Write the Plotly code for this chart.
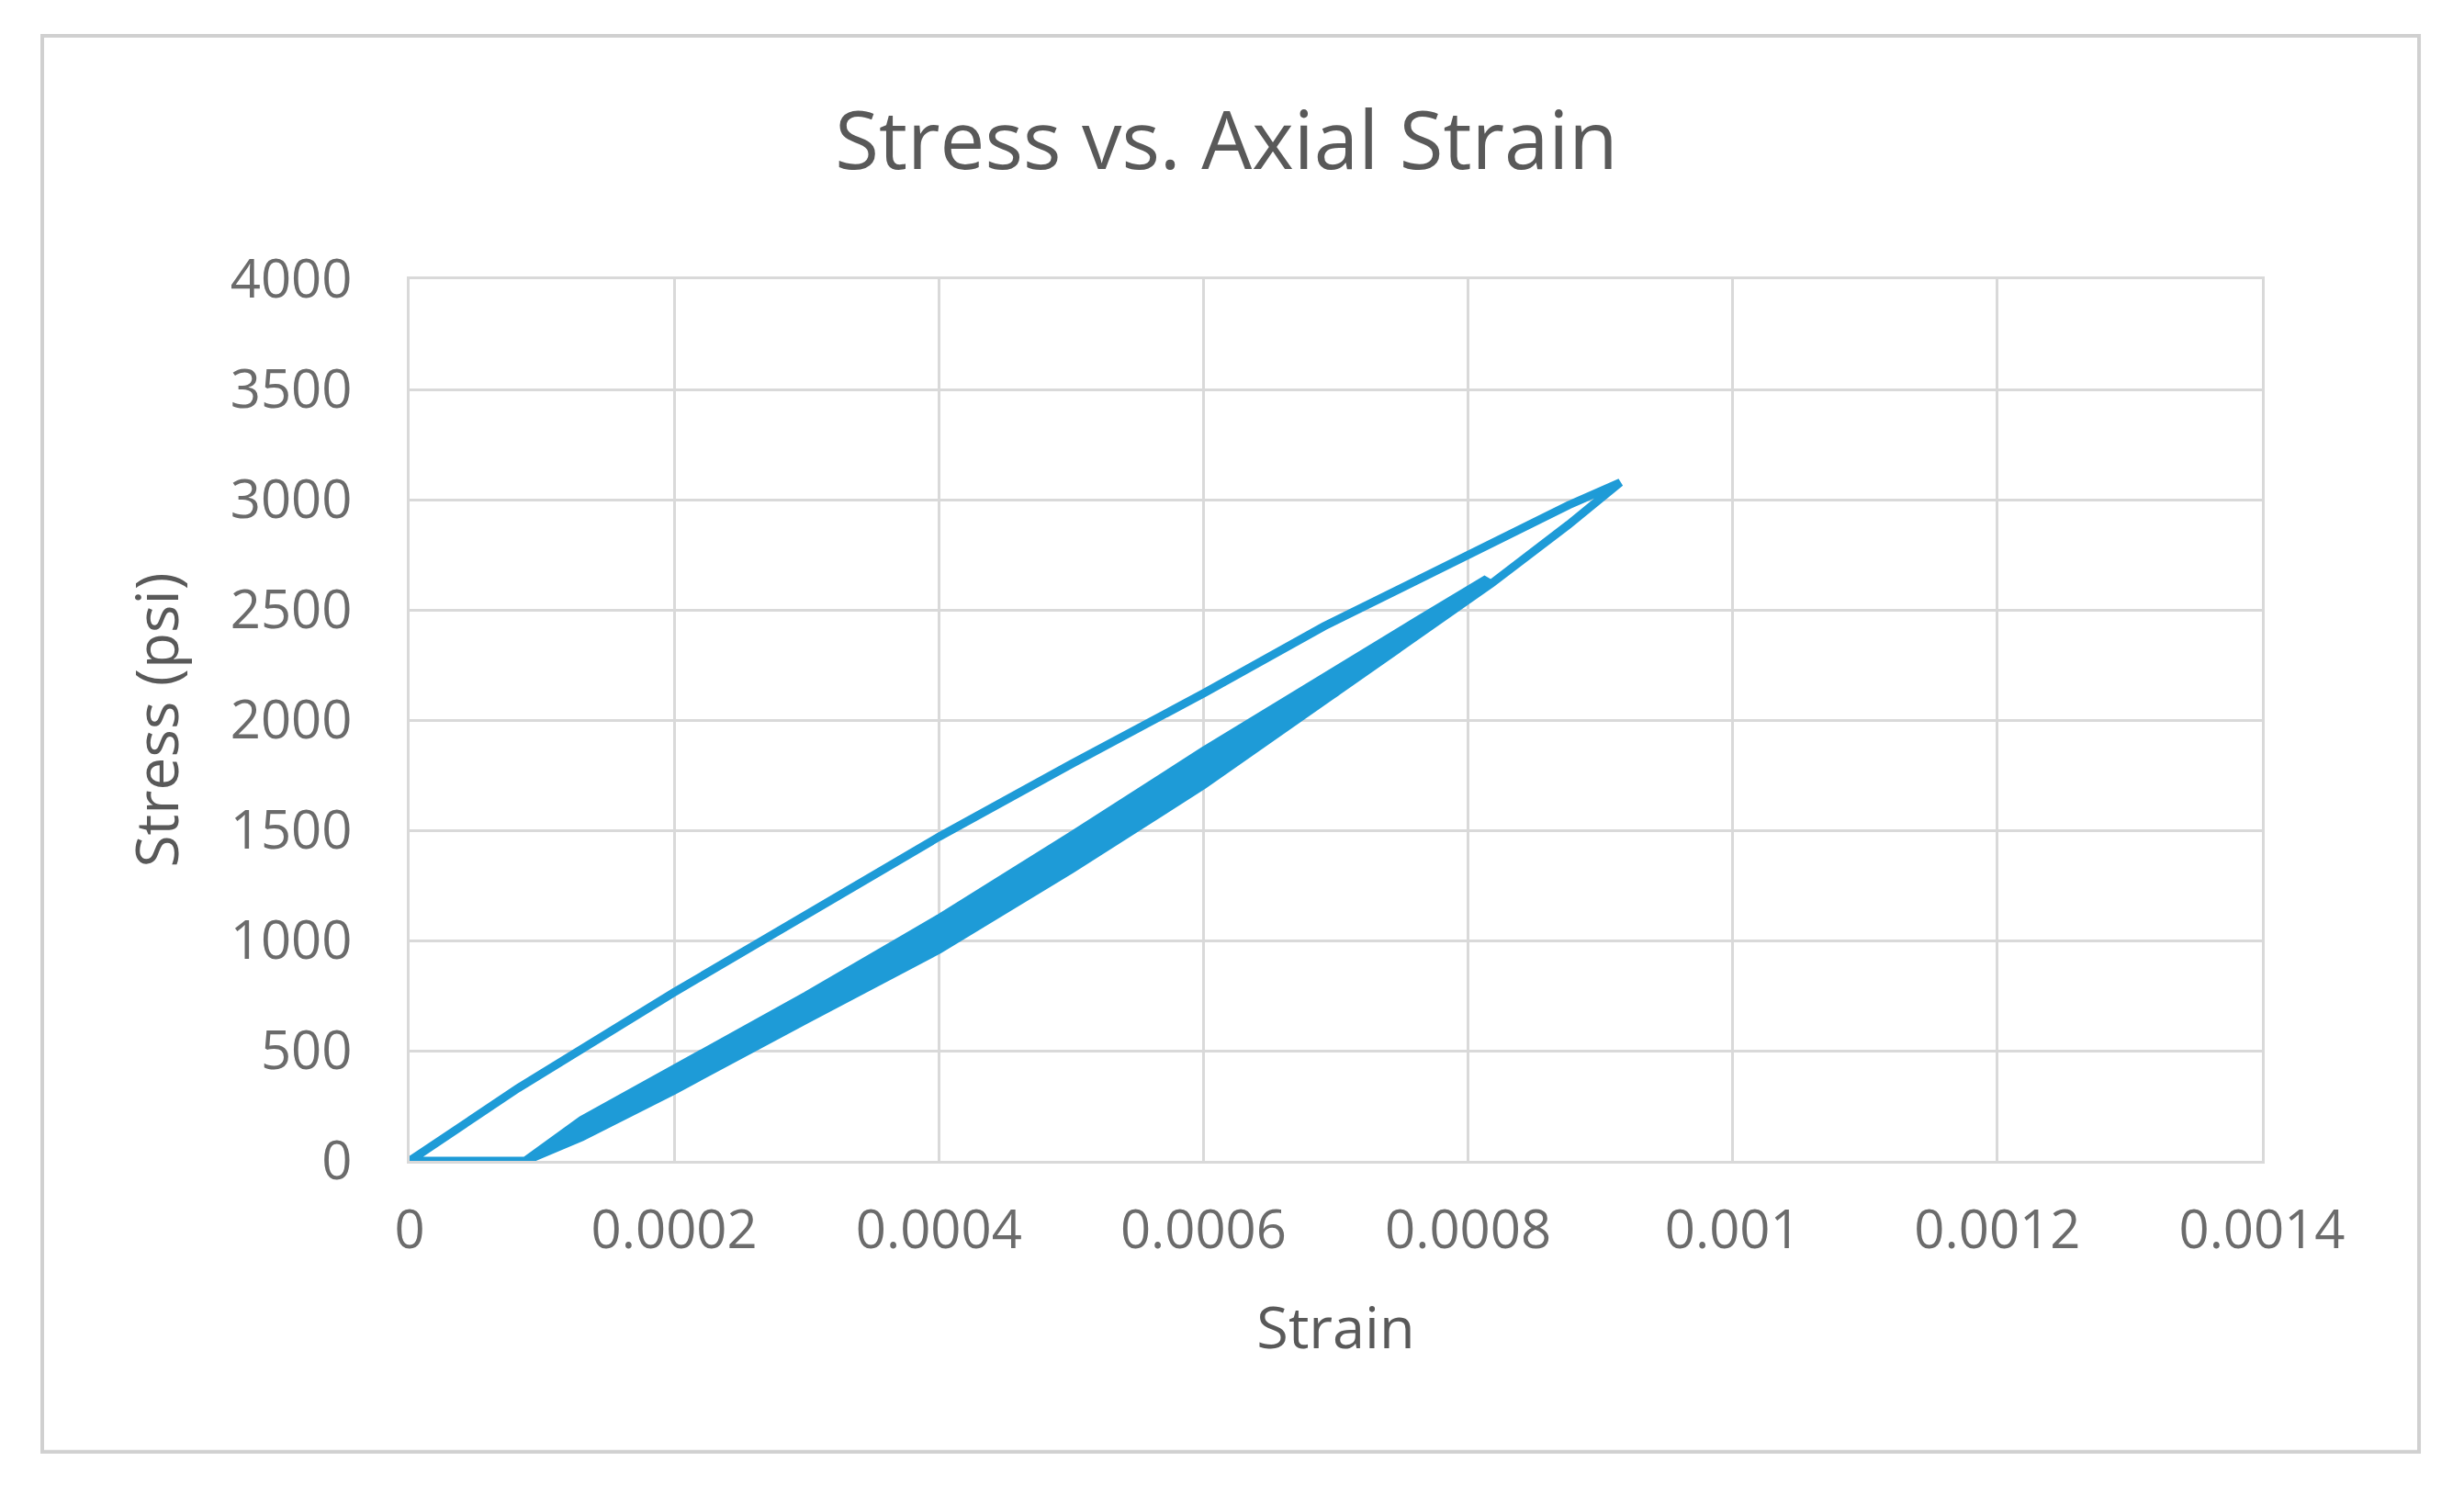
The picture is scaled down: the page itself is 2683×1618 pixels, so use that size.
import plotly.graph_objects as go

# first loading branch (strain, psi)
load_strain = [0, 0.000082, 0.0002, 0.0004, 0.0005, 0.0006, 0.000691, 0.0008, 0.000876, 0.000915]
load_stress = [0, 330, 765, 1470, 1800, 2121, 2425, 2750, 2975, 3078]

# first unloading branch back to the residual strain
unload_strain = [0.000915, 0.000876, 0.000818, 0.0008, 0.0007, 0.0006, 0.0005, 0.0004, 0.0003, 0.0002, 0.00013, 0.0000875]
unload_stress = [3078, 2887, 2621, 2545, 2118, 1705, 1322, 958, 642, 320, 108, 0]

# repeated cycles that make the thick band (same strain points for each pass)
band_strain = [0.0000875, 0.00013, 0.0002, 0.0003, 0.0004, 0.0005, 0.0006, 0.0007, 0.00076, 0.000814]
cycle_up = [
    [0, 115, 328, 650, 965, 1330, 1712, 2125, 2400, 2632],
    [0, 129, 347, 670, 992, 1359, 1742, 2145, 2409, 2634],
    [0, 143, 366, 690, 1019, 1388, 1772, 2165, 2418, 2636],
]
cycle_down = [
    [0, 185, 422, 750, 1100, 1475, 1860, 2225, 2445, 2640],
    [0, 171, 403, 730, 1073, 1446, 1830, 2205, 2436, 2638],
    [0, 157, 385, 710, 1046, 1417, 1801, 2185, 2427, 2637],
]

x_ticks = [0, 0.0002, 0.0004, 0.0006, 0.0008, 0.001, 0.0012, 0.0014]
x_labels = ["0", "0.0002", "0.0004", "0.0006", "0.0008", "0.001", "0.0012", "0.0014"]
y_ticks = [0, 500, 1000, 1500, 2000, 2500, 3000, 3500, 4000]
y_labels = ["0", "500", "1000", "1500", "2000", "2500", "3000", "3500", "4000"]

# chain everything in recording order, last point goes back to the origin
xs = load_strain + unload_strain
ys = load_stress + unload_stress
for up, down in zip(cycle_up, cycle_down):
    xs += band_strain + band_strain[::-1]
    ys += up + down[::-1]
xs += [0]
ys += [0]

grey = "#595959"
grid = "#D9D9D9"
font = "Open Sans"

fig = go.Figure()
fig.add_trace(
    go.Scatter(
        x=xs,
        y=ys,
        mode="lines",
        line=dict(color="#1E9BD7", width=9),
        showlegend=False,
    )
)

fig.update_layout(
    width=2683,
    height=1618,
    margin=dict(l=438, r=228, t=296, b=362),
    paper_bgcolor="white",
    plot_bgcolor="white",
    title=dict(
        text="Stress vs. Axial Strain",
        font=dict(family=font, size=87, color=grey),
        x=0.441,
        xref="paper",
        xanchor="center",
        y=0.91,
        yanchor="middle",
    ),
    xaxis=dict(
        range=[0, 0.0014],
        tickvals=x_ticks,
        ticktext=x_labels,
        showgrid=True,
        gridcolor=grid,
        gridwidth=3,
        zeroline=False,
        showline=True,
        linecolor=grid,
        linewidth=3,
        mirror=True,
        ticks="",
        ticklabelstandoff=22,
        tickfont=dict(family=font, size=58, color="#6b6b6b"),
        title=dict(text="Strain", font=dict(family=font, size=63, color=grey), standoff=50),
    ),
    yaxis=dict(
        range=[0, 4000],
        tickvals=y_ticks,
        ticktext=y_labels,
        showgrid=True,
        gridcolor=grid,
        gridwidth=3,
        zeroline=False,
        showline=True,
        linecolor=grid,
        linewidth=3,
        mirror=True,
        ticks="",
        ticklabelstandoff=48,
        tickfont=dict(family=font, size=58, color="#6b6b6b"),
        title=dict(text="Stress (psi)", font=dict(family=font, size=64, color=grey), standoff=36),
    ),
)

# outer chart frame
fig.add_shape(
    type="rect",
    xref="paper",
    yref="paper",
    x0=-0.1983,
    x1=1.0848,
    y0=-0.330,
    y1=1.276,
    line=dict(color="#D0D0D0", width=4),
    layer="below",
)

fig.write_html("out.html")
